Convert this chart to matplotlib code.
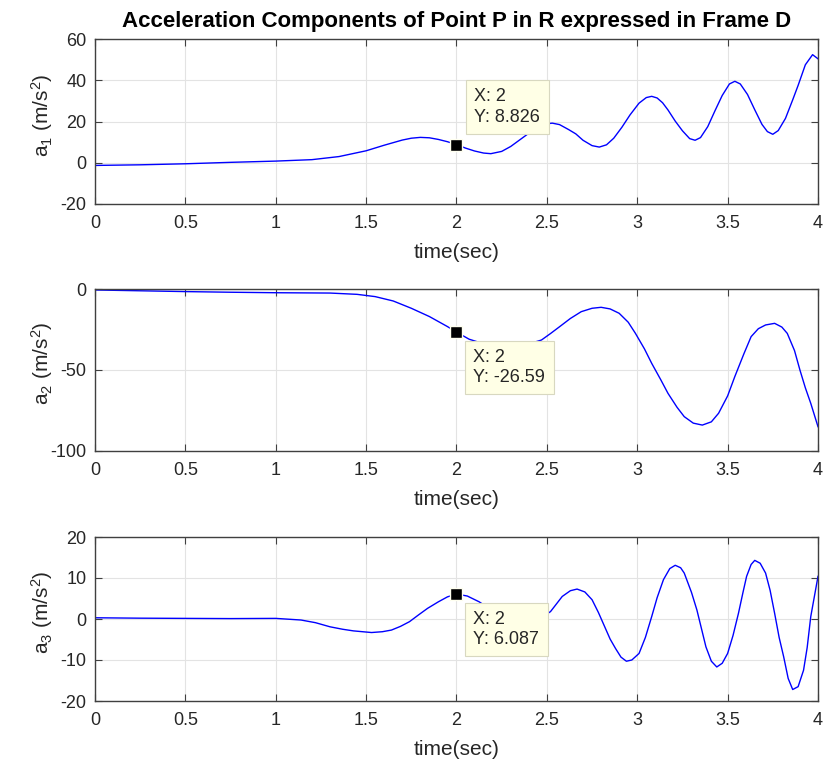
import matplotlib
matplotlib.use("Agg")
import matplotlib.pyplot as plt
from matplotlib.ticker import FormatStrFormatter, MultipleLocator

plt.rcParams['font.family'] = ['Liberation Sans', 'DejaVu Sans']
plt.rcParams['mathtext.default'] = 'regular'

# ---- data ----
t1 = [0, 0.25, 0.5, 0.75, 1.0, 1.2, 1.35, 1.5, 1.6, 1.7, 1.75, 1.8, 1.85, 1.9, 1.95,
      2.0, 2.05, 2.1, 2.15, 2.19, 2.25, 2.3, 2.35, 2.4, 2.45, 2.5, 2.53, 2.57, 2.62,
      2.66, 2.7, 2.75, 2.79, 2.83, 2.87, 2.915, 2.96, 3.01, 3.05, 3.08, 3.11, 3.14,
      3.17, 3.21, 3.25, 3.29, 3.32, 3.35, 3.39, 3.43, 3.47, 3.51, 3.54, 3.57, 3.61,
      3.65, 3.69, 3.72, 3.75, 3.78, 3.82, 3.86, 3.89, 3.93, 3.97, 4.0]
a1 = [-1.3, -1.0, -0.5, 0.2, 0.8, 1.5, 3.0, 5.8, 8.5, 11.0, 11.9, 12.3, 12.1, 11.3, 10.2,
      8.826, 7.1, 5.7, 4.7, 4.4, 5.5, 7.9, 11.1, 14.3, 17.3, 18.9, 19.2, 18.5, 16.1,
      14.0, 10.9, 8.3, 7.6, 8.7, 11.9, 17.2, 23.2, 28.9, 31.6, 32.2, 31.4, 29.1,
      25.6, 20.2, 15.5, 11.7, 10.9, 12.2, 17.5, 25.2, 32.6, 38.2, 39.5, 38.2, 33.1,
      25.7, 18.6, 15.1, 13.8, 15.6, 21.5, 30.5, 37.5, 47.5, 52.4, 50.4]

t2 = [0, 0.25, 0.5, 0.75, 1.0, 1.3, 1.45, 1.55, 1.65, 1.75, 1.85, 1.95, 2.0, 2.07,
      2.15, 2.25, 2.35, 2.42, 2.47, 2.52, 2.57, 2.63, 2.69, 2.75, 2.8, 2.85, 2.9,
      2.95, 2.99, 3.04, 3.08, 3.13, 3.17, 3.22, 3.26, 3.31, 3.36, 3.41, 3.45, 3.5,
      3.54, 3.59, 3.63, 3.67, 3.71, 3.76, 3.8, 3.83, 3.87, 3.9, 3.93, 3.96, 4.0]
a2 = [-0.6, -1.1, -1.6, -2.0, -2.3, -2.5, -3.3, -4.7, -7.4, -11.9, -17.0, -23.2, -26.59, -31.0,
      -33.8, -35.0, -34.5, -33.2, -31.5, -27.5, -23.3, -18.2, -14.0, -11.9, -11.3, -12.3, -15.0,
      -20.5, -27.4, -37.0, -45.9, -56.0, -64.4, -73.0, -78.8, -82.8, -84.0, -82.0, -76.7, -66.0,
      -54.0, -40.0, -29.4, -24.5, -22.2, -21.2, -23.5, -27.4, -38.0, -50.0, -61.0, -70.6, -85.0]

t3 = [0, 0.25, 0.5, 0.75, 1.0, 1.14, 1.22, 1.3, 1.37, 1.43, 1.53, 1.59, 1.64, 1.69,
      1.74, 1.79, 1.84, 1.9, 1.95, 2.0, 2.06, 2.125, 2.2, 2.3, 2.38, 2.45, 2.52, 2.585,
      2.63, 2.667, 2.71, 2.75, 2.785, 2.82, 2.85, 2.88, 2.91, 2.94, 2.97, 3.01, 3.045,
      3.08, 3.11, 3.145, 3.18, 3.21, 3.24, 3.26, 3.3, 3.33, 3.36, 3.38, 3.41, 3.44,
      3.47, 3.5, 3.53, 3.56, 3.585, 3.605, 3.63, 3.65, 3.68, 3.71, 3.735, 3.76, 3.785,
      3.81, 3.835, 3.86, 3.89, 3.92, 3.94, 3.96, 3.98, 4.0]
a3 = [0.3, 0.2, 0.15, 0.1, 0.15, -0.25, -0.9, -1.9, -2.5, -2.9, -3.3, -3.1, -2.7, -1.8,
      -0.65, 1.0, 2.6, 4.2, 5.4, 6.087, 5.6, 4.2, 2.0, -0.5, -1.0, -0.2, 1.8, 5.5,
      6.9, 7.3, 6.6, 4.7, 1.6, -1.9, -4.9, -7.2, -9.3, -10.3, -10.0, -8.4, -4.5,
      0.6, 5.2, 9.6, 12.3, 13.1, 12.5, 11.2, 6.5, 2.2, -3.2, -6.8, -10.3, -11.7,
      -10.8, -8.4, -4.0, 1.4, 6.5, 10.4, 13.3, 14.3, 13.6, 11.2, 7.0, 1.4, -4.5,
      -9.2, -14.5, -17.2, -16.5, -12.5, -7.0, 0.6, 5.5, 10.4]

tip_x = 2
tip_y = [8.826, -26.59, 6.087]
tip_labels = ['8.826', '-26.59', '6.087']

ylabels = [r'a$_1$ (m/s$^2$)', r'a$_2$ (m/s$^2$)', r'a$_3$ (m/s$^2$)']
ylims = [(-20, 60), (-100, 0), (-20, 20)]
ysteps = [20, 50, 10]
title = 'Acceleration Components of Point P in R expressed in Frame D'
xlabel = 'time(sec)'

# ---- figure ----
W, H = 828, 761
fig = plt.figure(figsize=(W / 100, H / 100), dpi=100)
boxes = [(39, 204), (289, 451), (537, 701)]
left, right = 95, 818
series = [(t1, a1), (t2, a2), (t3, a3)]
tip_offsets = [((18, 19), 'bottom'), ((17, -17), 'top'), ((17, -17), 'top')]

edge = '#404040'
txt = '#262626'
fs = 13

for i, ((top, bot), (tx, ty)) in enumerate(zip(boxes, series)):
    ax = fig.add_axes([left / W, 1 - bot / H, (right - left) / W, (bot - top) / H])
    ax.plot(tx, ty, color='#0000ff', lw=1.0)
    ax.set_xlim(0, 4)
    ax.set_ylim(*ylims[i])
    ax.xaxis.set_major_locator(MultipleLocator(0.5))
    ax.yaxis.set_major_locator(MultipleLocator(ysteps[i]))
    ax.xaxis.set_major_formatter(FormatStrFormatter('%g'))
    ax.yaxis.set_major_formatter(FormatStrFormatter('%g'))
    ax.grid(True, color='#e3e3e3', lw=0.8)
    ax.set_axisbelow(True)
    for s in ax.spines.values():
        s.set_color(edge)
        s.set_linewidth(1.0)
    ax.tick_params(direction='in', length=5, width=0.8, color=edge,
                   top=True, right=True, labelsize=fs, labelcolor=txt, pad=6)
    ax.tick_params(axis='x', pad=8)
    ax.set_xlabel(xlabel, fontsize=15, color=txt, labelpad=8)
    ax.set_ylabel(ylabels[i], fontsize=15, color=txt)
    ax.yaxis.set_label_coords((55 - left) / (right - left), 0.54)

    # data tip
    ax.plot([tip_x], [tip_y[i]], marker='s', ms=8, mfc='black', mec='#fffff0',
            mew=1.0, zorder=5)
    (ox, oy), va = tip_offsets[i]
    ax.annotate('X: %g\nY: %s' % (tip_x, tip_labels[i]), xy=(tip_x, tip_y[i]),
                xytext=(ox, oy), textcoords='offset pixels', ha='left', va=va,
                fontsize=fs, color=txt, linespacing=1.25,
                bbox=dict(boxstyle='square,pad=0.45', fc='#ffffe6', ec='#d8d8c0', lw=0.8),
                zorder=6)
    if i == 0:
        ax.set_title(title, fontsize=16, fontweight='bold', color='black', pad=9)

fig.savefig('out.png', dpi=100)
